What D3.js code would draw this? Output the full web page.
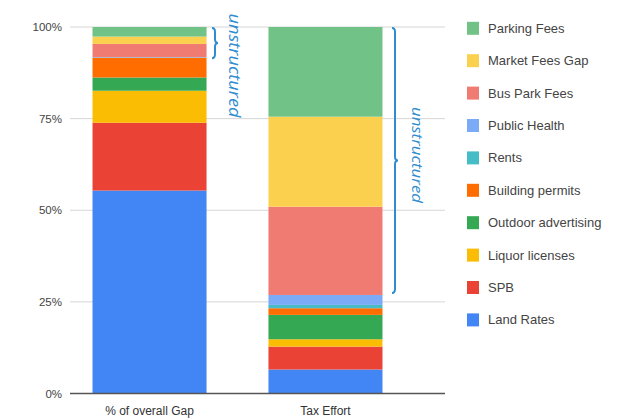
<!DOCTYPE html>
<html lang="en">
<head>
  <meta charset="UTF-8">
  <title></title>
  <style>
    html, body {
      margin: 0;
      overflow: hidden;
      width: 100%;
      height: 100%;
      background: white;
    }
    svg {
      position: absolute;
      top: 0;
      left: 0;
    }
  </style>
</head>
<body>
  <svg width="632" height="418"></svg>
</body>
<script src="https://d3js.org/d3.v7.min.js"></script>
<script type="text/javascript">
  // stack order, bottom to top
  const categories = ['Land Rates', 'SPB', 'Liquor licenses', 'Outdoor advertising',
    'Building permits', 'Rents', 'Public Health', 'Bus Park Fees', 'Market Fees Gap', 'Parking Fees']
  const bars = ['% of overall Gap', 'Tax Effort']
  const overallGap = [55.1, 18.4, 8.7, 3.6, 5.3, 0.1, 0.1, 3.6, 2.0, 2.6]
  const taxEffort = [6.5, 6.2, 2.0, 6.6, 1.8, 0.9, 2.7, 23.9, 24.4, 24.3]
  const yTicks = [0, 0.25, 0.5, 0.75, 1]
  const colors = ['#4285f4', '#ea4335', '#fbbc04', '#34a853', '#ff6d01',
    '#46bdc6', '#7baaf7', '#f07b72', '#fcd04f', '#71c287']

  const svg = d3.select('svg')

  const rows = bars.map((b, i) => {
    const vals = i === 0 ? overallGap : taxEffort
    const r = { bar: b }
    categories.forEach((c, j) => r[c] = vals[j])
    return r
  })
  const series = d3.stack().keys(categories).offset(d3.stackOffsetExpand)(rows)

  const x = d3.scaleBand().domain(bars).range([70, 405])
    .paddingInner(0.352).paddingOuter(0.128)
  const y = d3.scaleLinear().domain([0, 1]).range([393.5, 27])
  const color = d3.scaleOrdinal().domain(categories).range(colors)

  // grid
  svg.append('g')
    .selectAll('line')
    .data(yTicks.filter(t => t > 0))
    .enter()
    .append('line')
    .attr('x1', 70).attr('x2', 445)
    .attr('y1', d => y(d)).attr('y2', d => y(d))
    .attr('stroke', '#d6d6d6')

  svg.append('g')
    .selectAll('text')
    .data(yTicks)
    .enter()
    .append('text')
    .attr('x', 62)
    .attr('y', d => y(d) + 4)
    .attr('text-anchor', 'end')
    .attr('font-family', 'Liberation Sans, Arial, sans-serif')
    .attr('font-size', 11.5)
    .attr('fill', '#444')
    .text(d => d3.format('.0%')(d))

  // bars
  svg.append('g')
    .selectAll('g')
    .data(series)
    .enter()
    .append('g')
    .attr('fill', d => color(d.key))
    .selectAll('rect')
    .data(d => d)
    .enter()
    .append('rect')
    .attr('x', d => x(d.data.bar))
    .attr('width', x.bandwidth())
    .attr('y', d => y(d[1]))
    .attr('height', d => y(d[0]) - y(d[1]))

  // baseline
  svg.append('line')
    .attr('x1', 70).attr('x2', 445)
    .attr('y1', y(0)).attr('y2', y(0))
    .attr('stroke', '#555')
    .attr('stroke-width', 1.5)

  svg.append('g')
    .selectAll('text')
    .data(bars)
    .enter()
    .append('text')
    .attr('x', d => x(d) + x.bandwidth() / 2)
    .attr('y', 415)
    .attr('text-anchor', 'middle')
    .attr('font-family', 'Liberation Sans, Arial, sans-serif')
    .attr('font-size', 12)
    .attr('fill', '#333')
    .text(d => d)

  // legend
  const legend = svg.append('g')
    .selectAll('g')
    .data(categories.slice().reverse())
    .enter()
    .append('g')
    .attr('transform', (d, i) => `translate(467, ${28.3 + i * 32.4})`)
  legend.append('rect')
    .attr('x', 0).attr('y', -6.5)
    .attr('width', 12).attr('height', 13)
    .attr('fill', d => color(d))
  legend.append('text')
    .attr('x', 21).attr('y', 4.5)
    .attr('font-family', 'Liberation Sans, Arial, sans-serif')
    .attr('font-size', 13)
    .attr('fill', '#444')
    .text(d => d)

  // "unstructured" brackets
  const blue = '#2f8ccf'
  function brace(x0, y1, y2, w) {
    const ym = (y1 + y2) / 2, r = Math.min(4, (y2 - y1) / 4), xm = x0 + w / 2
    return `M${x0},${y1} Q${xm},${y1} ${xm},${y1 + r} L${xm},${ym - r} Q${xm},${ym} ${x0 + w},${ym}` +
      ` Q${xm},${ym} ${xm},${ym + r} L${xm},${y2 - r} Q${xm},${y2} ${x0},${y2}`
  }
  const notes = [
    { x: 212, y1: y(1) + 1, y2: y(0.915), tx: 235, ty: 65.5, size: 16, len: 104 },
    { x: 392, y1: y(1) + 1, y2: y(0.274), tx: 417, ty: 155, size: 15, len: 96 }
  ]
  svg.append('g')
    .selectAll('path')
    .data(notes)
    .enter()
    .append('path')
    .attr('d', n => brace(n.x, n.y1, n.y2, 6))
    .attr('fill', 'none')
    .attr('stroke', blue)
    .attr('stroke-width', 2)
  svg.append('g')
    .selectAll('text')
    .data(notes)
    .enter()
    .append('text')
    .attr('transform', n => `translate(${n.tx},${n.ty}) rotate(90)`)
    .attr('text-anchor', 'middle')
    .attr('dy', '0.35em')
    .attr('font-family', 'Open Sans, sans-serif')
    .attr('font-style', 'italic')
    .attr('font-size', n => n.size)
    .attr('textLength', n => n.len)
    .attr('lengthAdjust', 'spacingAndGlyphs')
    .attr('fill', blue)
    .text('unstructured')
</script>
</html>
